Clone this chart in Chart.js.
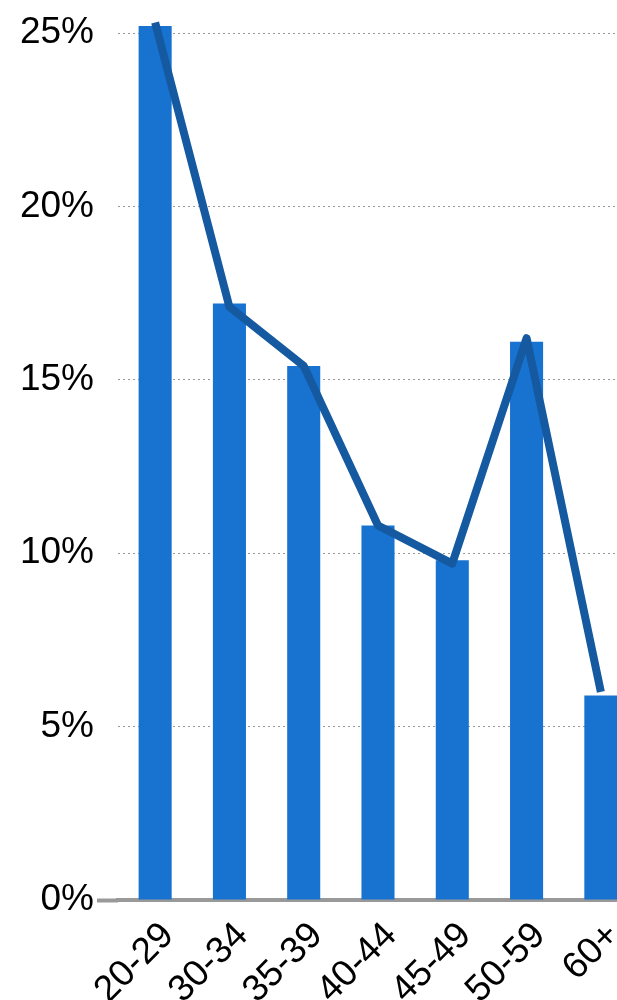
<!DOCTYPE html>
<html>
<head>
<meta charset="utf-8">
<script src="https://cdn.jsdelivr.net/npm/chart.js@4/dist/chart.umd.min.js"></script>
<style>
    html, body { margin: 0; padding: 0; background: #fff; }
    #wrap { width: 617px; height: 1000px; overflow: hidden; position: relative; }
    #box { width: 638px; height: 1000px; position: absolute; left: 0; top: 0; }
</style>
</head>
<body>
<div id="wrap"><div id="box"><canvas id="ageChart"></canvas></div></div>
<script>
const ageGroups = ['20-29', '30-34', '35-39', '40-44', '45-49', '50-59', '60+'];
const barShares = [25.2, 17.2, 15.4, 10.8, 9.8, 16.1, 5.9];
const lineShares = [25.3, 17.1, 15.4, 10.8, 9.7, 16.2, 6.0];
const yTicks = [0, 5, 10, 15, 20, 25];

document.addEventListener('DOMContentLoaded', function () {
    const canvas = document.getElementById('ageChart');

    new Chart(canvas.getContext('2d'), {
        type: 'bar',
        data: {
            labels: ageGroups,
            datasets: [{
                type: 'line',
                data: lineShares,
                borderColor: '#1559a0',
                borderWidth: 8,
                pointRadius: 0,
                tension: 0,
                borderCapStyle: 'butt',
                borderJoinStyle: 'round',
                clip: false,
                order: 0
            }, {
                data: barShares,
                backgroundColor: '#1872d0',
                borderWidth: 0,
                categoryPercentage: 1,
                barPercentage: 0.445,
                clip: false,
                order: 1
            }]
        },
        options: {
            responsive: true,
            maintainAspectRatio: false,
            animation: false,
            layout: { padding: { top: 33, left: 0, right: 0, bottom: 0 } },
            plugins: {
                legend: { display: false },
                tooltip: { enabled: false }
            },
            scales: {
                x: {
                    afterFit: function (scale) {
                        scale.height = 100;
                        scale.paddingLeft = 0;
                        scale.paddingRight = 0;
                    },
                    grid: { drawOnChartArea: false, drawTicks: false },
                    border: { display: true, color: '#999999', width: 4 },
                    ticks: {
                        minRotation: 45,
                        maxRotation: 45,
                        padding: 14,
                        labelOffset: 13,
                        color: '#000',
                        font: { family: 'Liberation Sans, Arial, sans-serif', size: 37 }
                    }
                },
                y: {
                    min: 0,
                    max: 25,
                    afterFit: function (scale) {
                        scale.width = 118;
                        scale.paddingTop = 0;
                        scale.paddingBottom = 0;
                    },
                    afterBuildTicks: function (scale) {
                        scale.ticks = yTicks.map(v => ({ value: v }));
                    },
                    border: { display: false, dash: [2, 3] },
                    grid: {
                        color: ctx => ctx.tick && ctx.tick.value === 0 ? 'rgba(0,0,0,0)' : '#999999',
                        lineWidth: 1,
                        drawTicks: true,
                        tickLength: 21,
                        tickWidth: 4,
                        tickBorderDash: [],
                        tickColor: ctx => ctx.tick && ctx.tick.value === 0 ? '#999999' : 'rgba(0,0,0,0)'
                    },
                    ticks: {
                        padding: 3,
                        color: '#000',
                        font: { family: 'Liberation Sans, Arial, sans-serif', size: 37 },
                        callback: function (value) { return value + '%'; }
                    }
                }
            }
        }
    });
});
</script>
</body>
</html>
